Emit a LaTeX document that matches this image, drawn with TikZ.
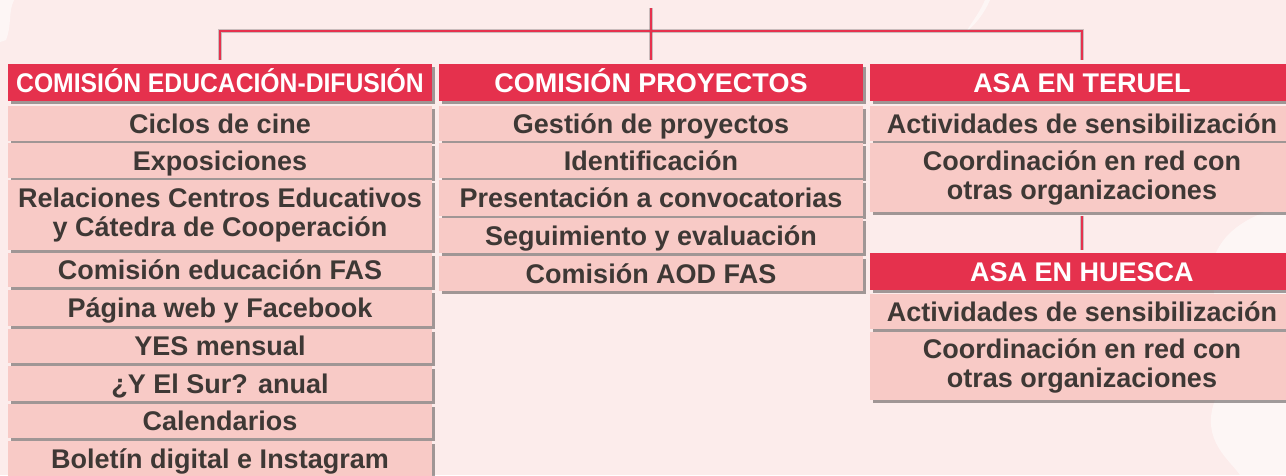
\documentclass[tikz,border=0pt]{standalone}
\usepackage{fontspec}
\setmainfont{Liberation Sans}
\usetikzlibrary{shadows}
\definecolor{bgpink}{HTML}{FCECEB}
\definecolor{hdrred}{HTML}{E5314D}
\definecolor{itempink}{HTML}{F8CAC6}
\definecolor{txtdark}{HTML}{3E3835}
\definecolor{shade}{HTML}{555050}
\tikzset{
  box/.style={anchor=north west, inner sep=0pt, outer sep=0pt, align=center,
    minimum width=424pt,
    font=\fontsize{27}{29}\selectfont\bfseries,
    drop shadow={shadow xshift=2.5pt, shadow yshift=-3pt, opacity=0.55, fill=shade}},
  oneline/.style={text height=19.3pt, text depth=0pt},
  hdr/.style={box, oneline, fill=hdrred, text=white, minimum height=37pt},
  item/.style={box, fill=itempink, text=txtdark, minimum height=#1},
  item/.default=35pt,
  sitem/.style={item=#1, oneline},
  sitem/.default=35pt,
  conn/.style={draw=hdrred, line width=2.6pt},
  connshadow/.style={draw=shade, line width=3.4pt, opacity=0.3},
  blob/.style={fill=white, opacity=0.55},
}
\begin{document}
\begin{tikzpicture}[x=1pt, y=-1pt]
\useasboundingbox (0,0) rectangle (1286,475);
\clip (0,0) rectangle (1286,475);
\fill[bgpink] (0,0) rectangle (1286,475);
% faint background shapes
\fill[blob] (1286,205) .. controls (1250,215) and (1225,230) .. (1215,255)
  .. controls (1205,300) and (1235,340) .. (1215,400)
  .. controls (1200,440) and (1230,460) .. (1240,475) -- (1286,475) -- cycle;
\fill[blob] (0,0) -- (14,0) .. controls (8,12) and (12,25) .. (6,40) -- (0,42) -- cycle;
\fill[blob] (985,0) .. controls (980,12) and (972,22) .. (966,32)
  .. controls (974,26) and (984,14) .. (990,0) -- cycle;

% column 1
\node[hdr] (h1) at (8,64) {\scalebox{0.915}[1]{COMISIÓN EDUCACIÓN-DIFUSIÓN}};
\node[sitem] (a1) at (8,106) {Ciclos de cine};
\node[sitem] (a2) at (8,143) {Exposiciones};
\node[item=70pt] (a3) at (8,180) {Relaciones Centros Educativos\\y Cátedra de Cooperación};
\node[sitem=34pt] (a4) at (8,253) {Comisión educación FAS};
\node[sitem=36pt] (a5) at (8,290) {Página web y Facebook};
\node[sitem=34pt] (a6) at (8,329) {YES mensual};
\node[sitem] (a7) at (8,366) {¿Y El Sur? anual};
\node[sitem=34pt] (a8) at (8,404) {Calendarios};
\node[sitem=36pt] (a9) at (8,441) {Boletín digital e Instagram};

% column 2
\node[hdr] (h2) at (439,64) {COMISIÓN PROYECTOS};
\node[sitem] (b1) at (439,106) {Gestión de proyectos};
\node[sitem] (b2) at (439,143) {Identificación};
\node[sitem=36pt] (b3) at (439,180) {Presentación a convocatorias};
\node[sitem] (b4) at (439,218) {Seguimiento y evaluación};
\node[sitem] (b5) at (439,256) {Comisión AOD FAS};

% column 3
\node[hdr] (h3) at (870,64) {ASA EN TERUEL};
\node[sitem] (c1) at (870,106) {Actividades de sensibilización};
\node[item=69pt] (c2) at (870,143) {Coordinación en red con\\otras organizaciones};
\node[hdr] (h4) at (870,253) {ASA EN HUESCA};
\node[sitem] (d1) at (870,294) {Actividades de sensibilización};
\node[item=68pt] (d2) at (870,332) {Coordinación en red con\\otras organizaciones};

% connectors
\coordinate (top) at (651,8);
\coordinate (bar) at (651,31);
\begin{scope}[xshift=2.5pt, yshift=-3pt]
  \draw[connshadow] (top) -- ([yshift=4pt]h2.north);
  \draw[connshadow] ([yshift=4pt]h1.north) |- (bar) -| ([yshift=4pt]h3.north);
  \draw[connshadow] ([yshift=-4pt]c2.south) -- ([yshift=3pt]h4.north);
\end{scope}
\draw[conn] (top) -- ([yshift=4pt]h2.north);
\draw[conn] ([yshift=4pt]h1.north) |- (bar) -| ([yshift=4pt]h3.north);
\draw[conn] ([yshift=-4pt]c2.south) -- ([yshift=3pt]h4.north);
\end{tikzpicture}
\end{document}
